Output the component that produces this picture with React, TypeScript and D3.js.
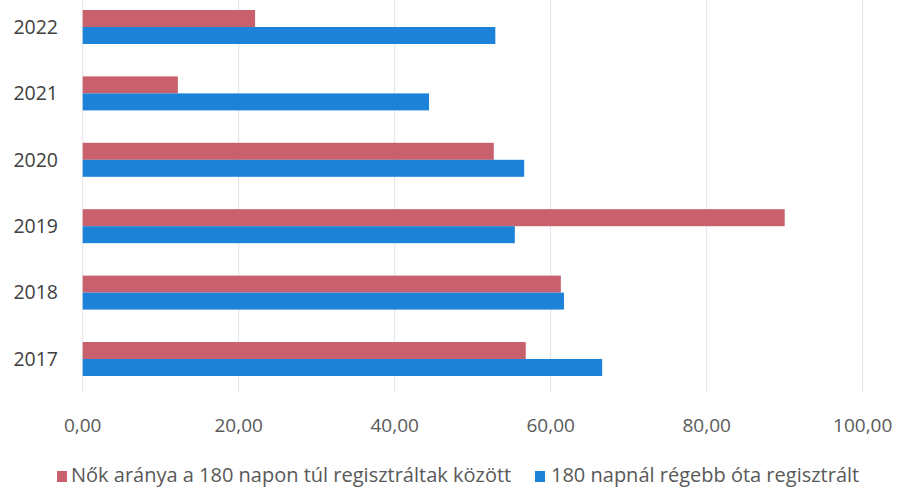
import * as d3 from "d3";

const years = ["2017", "2018", "2019", "2020", "2021", "2022"];
const womenShare = [56.8, 61.3, 90.0, 52.7, 12.2, 22.1];
const registered180 = [66.6, 61.7, 55.4, 56.6, 44.4, 52.9];
const seriesNames = [
  "Nők aránya a 180 napon túl regisztráltak között",
  "180 napnál régebb óta regisztrált",
];
const seriesColors = ["#c8606d", "#1c83d8"];
const xTicks = [0, 20, 40, 60, 80, 100];

const W = 900;
const H = 490;
const font = "'Open Sans', sans-serif";

export default function App() {
  const x = d3.scaleLinear().domain([0, 100]).range([82.7, 862.7]);
  const y = d3
    .scaleBand<string>()
    .domain(years)
    .range([392.2, -6.2])
    .paddingInner(0.488)
    .paddingOuter(0.244);
  const inner = d3
    .scaleBand<number>()
    .domain([0, 1])
    .range([0, y.bandwidth()]);
  const series = [womenShare, registered180];
  const fmt = (v: number) => v.toFixed(2).replace(".", ",");

  return (
    <svg
      width={W}
      height={H}
      style={{ position: "absolute", left: 0, top: 0, background: "#fff" }}
      fontFamily={font}
    >
      {xTicks.map((t) => (
        <line
          key={"g" + t}
          x1={x(t)}
          x2={x(t)}
          y1={0}
          y2={392}
          stroke="#e3e3e6"
          strokeWidth={1}
        />
      ))}
      {years.map((yr, i) => (
        <g key={yr} transform={`translate(0,${y(yr)})`}>
          {series.map((s, k) => (
            <rect
              key={k}
              x={x(0)}
              y={inner(k)}
              width={x(s[i]) - x(0)}
              height={inner.bandwidth()}
              fill={seriesColors[k]}
            />
          ))}
          <text
            x={58}
            y={y.bandwidth() / 2}
            dy="0.35em"
            textAnchor="end"
            fontSize={19.5}
            fill="#404040"
          >
            {yr}
          </text>
        </g>
      ))}
      {xTicks.map((t) => (
        <text
          key={"t" + t}
          x={x(t)}
          y={432}
          textAnchor="middle"
          fontSize={19}
          fill="#595959"
        >
          {fmt(t)}
        </text>
      ))}
      <g transform="translate(57,471)">
        <rect width={10} height={11} fill={seriesColors[0]} />
        <text x={14} y={11} fontSize={20} fill="#595959">
          {seriesNames[0]}
        </text>
      </g>
      <g transform="translate(535,471)">
        <rect width={10} height={11} fill={seriesColors[1]} />
        <text x={16} y={11} fontSize={20} fill="#595959">
          {seriesNames[1]}
        </text>
      </g>
    </svg>
  );
}
